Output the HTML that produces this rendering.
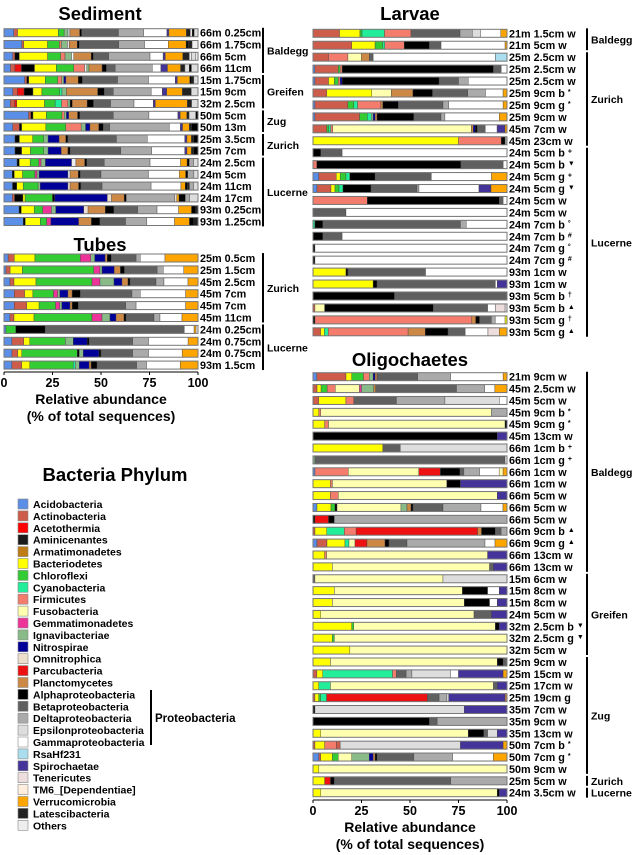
<!DOCTYPE html>
<html><head><meta charset="utf-8">
<style>
body{margin:0;background:#fff;}
svg{display:block;font-family:"Liberation Sans",Arial,sans-serif;font-weight:bold;}
</style></head>
<body>
<svg id="chart" width="632" height="855" viewBox="0 0 632 855"></svg>
<script>
// ---- Data ----
const phylaNames = ["Acidobacteria","Actinobacteria","Acetothermia","Aminicenantes","Armatimonadetes","Bacteriodetes","Chloroflexi","Cyanobacteria","Firmicutes","Fusobacteria","Gemmatimonadetes","Ignavibacteriae","Nitrospirae","Omnitrophica","Parcubacteria","Planctomycetes","Alphaproteobacteria","Betaproteobacteria","Deltaproteobacteria","Epsilonproteobacteria","Gammaproteobacteria","RsaHf231","Spirochaetae","Tenericutes","TM6_[Dependentiae]","Verrucomicrobia","Latescibacteria","Others"];
const phylaKeys = ["aci","act","acet","amin","arm","bac","chl","cyan","firm","fuso","gem","ign","nit","omn","par","pla","alp","bet","del","eps","gam","rsa","spi","ten","tm6","ver","lat","oth"];
const phylaColors = ["#5b8ee6","#cd5c4b","#ff0000","#1a1a1a","#c07c14","#ffff00","#33cc33","#22ee99","#f47c6c","#ffffb0","#ee3399","#88bb88","#000099","#eedfcc","#ee1111","#cc8844","#000000","#606060","#aaaaaa","#dddddd","#ffffff","#aaddee","#443399","#eedddd","#ffeedd","#ffa500","#222222","#eeeeee"];

const sedimentLabels = ["66m 0.25cm","66m 1.75cm","66m 5cm","66m 11cm","15m 1.75cm","15m 9cm","32m 2.5cm","50m 5cm","50m 13m","25m 3.5cm","25m 7cm","24m 2.5cm","24m 5cm","24m 11cm","24m 17cm","93m 0.25cm","93m 1.25cm"];
const sedimentValues = [
"aci5 act2 bac21 chl3 ign2 eps1 pla5 alp1 bet19 del13 gam12 spi1 ver9 lat2 oth1 alp1 eps2",
"aci9 act1 bac12 chl6 firm1 ign3 eps1 pla4 alp1 bet20 del13 gam12 ver9 alp1 lat2 oth3",
"aci4 act1 alp2 bac13 chl6 firm2 ign3 gam1 pla8 alp1 bet7 del19 gam6 spi1 ver8 lat3 oth1 eps2 oth1",
"aci3 act2 par3 alp6 bac10 chl8 firm5 oth1 ign1 pla6 alp2 bet4 del17 gam4 spi3 ver6 lat2 eps2 alp1 eps3",
"aci10 act1 alp1 bac8 chl6 firm2 ign1 nit1 pla6 alp2 bet17 del15 gam13 spi1 ver6 alp1 lat1 eps2",
"aci4 act2 par3 alp4 bac4 chl8 cyan1 ign2 pla14 alp3 bet4 del17 gam5 spi2 ver7 lat4 eps3",
"aci3 act2 par1 bac13 chl5 cyan3 firm3 ign1 alp1 pla7 alp3 bet8 del11 gam9 spi1 ver15 lat2 eps3",
"aci11 act1 alp1 bac6 chl7 firm1 ign1 nit1 pla4 alp1 bet15 del16 gam13 spi1 ver3 lat1 eps3 alp1",
"aci4 act3 alp1 bac11 chl9 firm7 ign2 nit2 pla4 alp2 bet3 del27 gam5 spi1 ver3 lat1 alp3",
"aci5 alp2 bac6 chl5 ign2 nit5 pla3 alp1 bet22 del14 gam17 spi1 ver2 lat1 alp2",
"aci5 alp3 bac4 chl6 ign2 nit6 pla3 alp1 bet23 del14 gam15 spi1 ver2 lat1 alp2",
"aci6 alp1 bac5 chl4 gem1 ign2 nit12 oth2 pla4 alp1 bet8 del21 gam14 ver3 alp1 del2 eps2",
"aci4 alp1 bac4 chl6 gem1 ign1 nit14 oth1 pla4 alp1 bet10 del23 gam15 ver3 alp1 del3 eps2",
"aci4 alp2 bac3 chl7 ign1 nit13 omn1 pla4 alp1 bet10 del23 gam14 ver2 alp1 lat1 del2 eps2",
"aci4 act1 alp4 bac1 chl13 alp1 nit25 omn2 pla6 alp1 del23 omn1 ver1 alp3 del2 eps4",
"aci7 alp1 bac6 chl4 gem4 ign2 nit13 omn2 pla8 alp4 bet11 del9 gam10 ver6 alp2 lat1",
"aci9 alp1 bac7 chl3 gem2 nit13 pla6 alp4 bet12 del10 gam13 ver7 alp2 lat2"];

const tubesLabels = ["25m 0.5cm","25m 1.5cm","45m 2.5cm","45m 7cm","45m 7cm","45m 11cm","24m 0.25cm","24m 0.75cm","24m 0.75cm","93m 1.5cm"];
const tubesValues = [
"aci2 act3 bac10 chl22 gem5 ign2 nit5 pla1 alp2 bet12 del2 gam12 ver16",
"aci1 act2 bac6 chl35 gem3 ign1 nit6 pla3 alp2 bet16 del3 gam10 ver7",
"aci3 act2 bac11 chl28 gem4 ign7 nit4 pla3 alp1 bet13 del4 gam12 ver5",
"aci5 act5 bac4 chl10 gem2 ign1 nit4 pla2 alp4 bet25 del4 gam22 ver6",
"aci5 act6 bac6 chl8 gem2 ign1 nit4 pla1 alp3 bet23 del5 gam24 ver6",
"aci3 act2 bac10 chl29 gem5 ign4 nit3 pla4 alp1 bet14 del3 gam11 ver8",
"aci1 chl5 alp15 bet71 gam5 ver1 oth1",
"aci4 act6 bac3 chl18 ign4 nit7 alp1 bet22 del8 gam20 ver5",
"aci4 act3 bac2 chl28 alp1 ign2 nit8 alp1 bet16 del8 gam17 ver8",
"aci4 act5 bac4 chl22 cyan1 ign2 nit5 pla1 alp3 bet20 del5 gam17 ver9"];

const larvaeLabels = ["21m 1.5cm w","21m 5cm w","25m 2.5cm w","25m 2.5cm w","25m 2.5cm w","25m 9cm b|*","25m 9cm g|*","25m 9cm w","45m 7cm w","45m 23cm w","24m 5cm b|+","24m 5cm b|▼","24m 5cm g|+","24m 5cm g|▼","24m 5cm w","24m 5cm w","24m 7cm b|°","24m 7cm b|#","24m 7cm g|°","24m 7cm g|#","93m 1cm w","93m 1cm w","93m 5cm b|†","93m 5cm b|▲","93m 5cm g|†","93m 5cm g|▲"];
const larvaeValues = [
"act13 bac10 chl1 cyan11 firm13 bet24 del6 eps4 gam10 ver3",
"act20 bac12 chl4 cyan1 firm10 alp13 bet6 gam33 ver1",
"act8 firm10 fuso7 pla4 bet2 gam63 rsa6",
"aci1 act12 chl1 firm1 alp78 bet4 gam3",
"aci1 act7 bac3 chl2 firm1 nit1 alp50 bet10 del5 gam20",
"act7 bac23 fuso10 pla11 alp10 bet18 del9 gam9 ver2",
"aci1 act17 chl3 cyan2 firm12 pla1 alp8 bet23 del3 gam28 ver2",
"aci1 act23 chl4 cyan2 ign1 nit1 pla1 alp19 bet14 del2 gam28 ver4",
"act7 chl1 cyan1 firm1 fuso70 pla1 nit1 alp1 bet4 gam6 spi4 ver1",
"bac75 firm22 alp2 del1",
"alp4 bet11 gam85",
"firm2 alp75 bet22 gam2",
"aci3 act9 bac2 chl3 cyan2 alp13 bet29 gam31 ver8",
"aci2 act7 bac2 chl2 cyan2 alp14 bet23 del1 gam30 spi6 ver8",
"firm28 alp68 bet2 gam2",
"bet17 gam83",
"cyan1 alp4 bet71 del3 gam21",
"alp5 bet10 gam85",
"alp1 gam99",
"alp1 gam99",
"bac17 alp1 bet40 gam42",
"bac31 alp2 bet61 gam1 spi5",
"alp42 bet58",
"act1 fuso5 alp56 bet28 gam4 ten5 oth1",
"alp1 firm80 pla2 alp2 bet6 del2 gam5 bac1",
"act4 bac2 cyan2 firm42 pla9 alp12 bet9 gam12 ten6 ver4"];

const oligoLabels = ["21m 9cm w","45m 2.5cm w","45m 5cm w","45m 9cm b|*","45m 9cm g|*","45m 13cm w","66m 1cm b|+","66m 1cm g|+","66m 1cm w","66m 1cm w","66m 5cm w","66m 5cm w","66m 5cm w","66m 9cm b|▲","66m 9cm g|▲","66m 13cm w","66m 13cm w","15m 6cm w","15m 8cm w","15m 8cm w","24m 5cm w","32m 2.5cm b|▼","32m 2.5cm g|▼","32m 5cm w","25m 9cm w","25m 15cm w","25m 17cm w","25m 19cm g","35m 7cm w","35m 9cm w","35m 13cm w","50m 7cm b|*","50m 7cm g|*","50m 9cm w","25m 5cm w","24m 3.5cm w"];
const oligoValues = [
"aci2 act15 bac3 chl6 firm3 ign2 nit1 pla1 bet21 del17 gam27 ver2",
"act2 bac2 chl3 firm4 fuso12 gem1 ign6 pla1 bet40 del14 gam5 ver6",
"act3 bac14 firm4 bet22 del25 eps28 gam4",
"bac3 firm1 fuso88 del8",
"bac6 firm2 fuso91 alp1",
"alp95 spi5",
"bac36 bet9 eps55",
"ign1 bet98 oth1",
"aci1 firm17 fuso36 par11 alp10 bet2 del8 gam10 fuso2 ver2",
"bac9 firm1 fuso59 alp7 spi24",
"bac9 firm4 fuso82 spi5",
"aci2 bac7 chl2 alp1 fuso32 ign3 pla2 alp1 bet15 del19 gam11 ver2",
"alp1 par7 alp3 del89",
"act1 bac6 cyan9 firm6 par62 pla2 alp7 bet3 del3",
"aci2 act5 bac9 cyan2 fuso3 par6 pla9 alp2 bet9 del39 gam5 ver6",
"bac6 firm1 fuso83 spi10",
"bac10 fuso81 bet2 spi7",
"bet1 fuso66 eps33",
"bac11 fuso66 alp13 gam6 spi4",
"bac10 fuso68 alp13 gam4 spi5",
"bac4 fuso79 bet9 spi8",
"bac20 chl1 fuso73 alp2 spi4",
"bac10 chl1 fuso89",
"bac19 fuso81",
"bac9 fuso86 alp3 bet2",
"act2 bac3 cyan36 firm2 bet5 del3 eps20 gam4 spi23 ver2",
"bac3 cyan6 fuso84 bet2 spi5",
"act1 bac2 chl1 cyan3 par52 bet6 del4 eps1 spi29 pla1",
"alp1 eps77 spi22",
"alp60 bet4 del36",
"bac4 fuso76 alp8 bet2 eps5 spi5",
"act1 bac5 firm6 act2 eps62 spi22 ver2",
"aci3 act1 bac6 chl3 fuso7 ign9 nit2 pla1 alp1 bet19 del20 gam21 ver7",
"bac3 fuso97",
"bac6 par3 alp2 bet60 del29",
"bac4 fuso91 alp1 spi4"];

const tickValues = [0,25,50,75,100];

// ---- Drawing ----
const NS = "http://www.w3.org/2000/svg";
const svg = document.getElementById("chart");
function mk(tag, attrs, parent){
  const e = document.createElementNS(NS, tag);
  for (const k in attrs) e.setAttribute(k, attrs[k]);
  (parent||svg).appendChild(e);
  return e;
}
function colorOf(k){ return phylaColors[phylaKeys.indexOf(k)]; }
function parse(s){ return s.split(" ").map(t=>{const m=t.match(/^([a-z0-9]+?)(\d+(?:\.\d+)?)$/);return [m[1], parseFloat(m[2])];}); }

function text(x,y,str,size,anchor,parent){
  const t = mk("text",{x:x,y:y,"font-size":size,"text-anchor":anchor||"start",fill:"#000"},parent);
  t.textContent = str;
  return t;
}

function panel(name, labels, values, x0, x1, y0, pitch, barH, groups, bx, axisY, axisTitle){
  const g = mk("g",{});
  
  
  const xs = v => x0 + (x1-x0)*v/100;
  values.forEach((s,i)=>{
    const segs = parse(s);
    const tot = segs.reduce((a,b)=>a+b[1],0);
    const cy = y0 + i*pitch;
    const bg = mk("g",{},g);
    
    
    let acc = 0;
    segs.forEach(([k,v])=>{
      const r = mk("rect",{x:xs(acc/tot*100),y:cy-barH/2,width:Math.max(0,xs(v/tot*100)-x0),height:barH,fill:colorOf(k),stroke:"#444","stroke-width":0.4},bg);
      
      
      acc += v;
    });
    mk("rect",{x:x0,y:cy-barH/2,width:x1-x0,height:barH,fill:"none",stroke:"#777","stroke-width":1},bg);
    const parts = labels[i].split("|");
    const lt = mk("text",{x:x1+2,y:cy+4,"font-size":10.8,fill:"#000"},g);
    
    
    lt.appendChild(document.createTextNode(parts[0]));
    if (parts[1]){
      const sp = mk("tspan",{"font-size":7,dx:3,dy:-3},lt);
      sp.textContent = parts[1];
    }
  });
  groups.forEach(([lab,a,b])=>{
    const top = y0 + a*pitch - pitch/2 + 1, bot = y0 + b*pitch + pitch/2 - 1;
    const ln = mk("line",{x1:bx,y1:top,x2:bx,y2:bot,stroke:"#000","stroke-width":2},g);
    
    
    const gt = text(bx+4,(top+bot)/2+4,lab,10.5,"start",g);
    
    
  });
  if (axisY){
    const ax = mk("g",{},g);
    
    
    mk("line",{x1:x0,y1:axisY,x2:x1,y2:axisY,stroke:"#000","stroke-width":1},ax);
    tickValues.forEach(v=>{
      mk("line",{x1:xs(v),y1:axisY,x2:xs(v),y2:axisY+3,stroke:"#000","stroke-width":1},ax);
      const tl = text(xs(v),axisY+15,String(v),12.5,"middle",ax);
      
      
    });
    if (axisTitle){
      const t1 = text((x0+x1)/2,axisY+32,"Relative abundance",14,"middle",ax);
      
      
      const t2 = text((x0+x1)/2,axisY+49,"(% of total sequences)",14,"middle",ax);
      
      
    }
  }
}

function title(x,y,s,nm){
  const t = text(x,y,s,18.5,"middle");
  
  
}
title(100,20,"Sediment","sediment-title");
title(100,251,"Tubes","tubes-title");
title(410,20,"Larvae","larvae-title");
title(410,366,"Oligochaetes","oligochaetes-title");
title(115,481,"Bacteria Phylum","legend-title");

panel("sediment", sedimentLabels, sedimentValues, 4, 198, 32.7, 11.8, 8,
  [["Baldegg",0,3],["Greifen",4,6],["Zug",7,8],["Zurich",9,10],["Lucerne",11,16]], 263, null, false);
panel("tubes", tubesLabels, tubesValues, 4, 198, 258, 11.9, 8,
  [["Zurich",0,5],["Lucerne",6,9]], 263, 372, true);
panel("larvae", larvaeLabels, larvaeValues, 313, 507, 33.3, 11.94, 8,
  [["Baldegg",0,1],["Zurich",2,9],["Lucerne",10,25]], 587, null, false);
panel("oligo", oligoLabels, oligoValues, 313, 507, 376.7, 11.886, 8,
  [["Baldegg",0,16],["Greifen",17,23],["Zug",24,33],["Zurich",34,34],["Lucerne",35,35]], 587, 800, true);

// Legend
const lg = mk("g",{});


phylaNames.forEach((n,i)=>{
  const y = 504 + i*11.9;
  const e = mk("g",{},lg);
  
  
  mk("rect",{x:18,y:y-5,width:10,height:10,fill:phylaColors[i],stroke:"#888","stroke-width":0.6},e);
  text(33,y+4,n,10.5,"start",e);
});
mk("line",{x1:151,y1:690,x2:151,y2:745,stroke:"#000","stroke-width":2},lg);
const pt = text(155,722,"Proteobacteria",11.5,"start",lg);


</script>
</body></html>
